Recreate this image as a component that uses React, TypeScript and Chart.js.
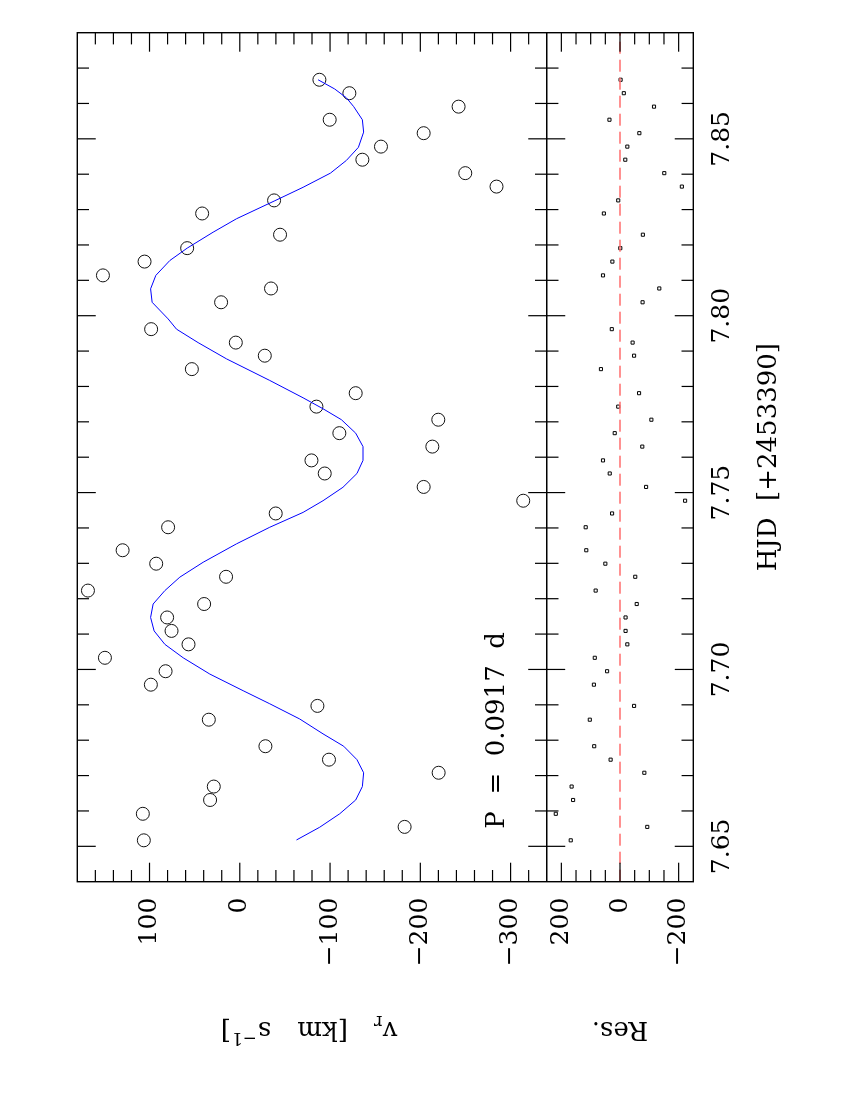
import React, { useEffect, useRef } from 'react';
import { Chart, registerables } from 'chart.js';

Chart.register(...registerables);

// ---- data ----
const HJD = [
  7.6517, 7.6555, 7.6592, 7.6631, 7.6669, 7.6708, 7.6745, 7.6783, 7.6858, 7.6897,
  7.6957, 7.6995, 7.7033, 7.7071, 7.7109, 7.7147, 7.7185, 7.7223, 7.7262, 7.7299,
  7.7337, 7.7402, 7.7441, 7.7477, 7.7516, 7.7554, 7.7591, 7.7630, 7.7668, 7.7706,
  7.7743, 7.7781, 7.7849, 7.7887, 7.7924, 7.7962, 7.8038, 7.8077, 7.8114, 7.8153,
  7.8191, 7.8229, 7.8289, 7.8326, 7.8365, 7.8403, 7.8441, 7.8478, 7.8516, 7.8554,
  7.8591, 7.8629, 7.8667,
];
const VR = [
  106.3, -182.6, 107.4, 32.9, 28.8, -220.3, -98.8, -28.4, 34.3, -86.0,
  98.5, 82.2, 149.4, 56.8, 75.6, 80.5, 39.5, 168.2, 15.2, 92.6,
  129.8, 79.4, -39.8, -314.0, -203.7, -94.1, -79.4, -213.3, -110.3, -219.9,
  -84.9, -128.4, 53.1, -27.7, 4.4, 98.2, 20.7, -34.6, 151.6, 105.5,
  58.3, -44.6, 41.7, -38.0, -284.4, -249.8, -135.8, -156.4, -203.7, -99.6,
  -242.4, -121.4, -88.2,
];
const RES = [
  168, -93, 219, 160, 165, -83, 32, 88, 103, -48,
  89, 44, 86, -25, -19, -19, -57, 83, -52, 50,
  115, 117, 27, -222, -89, 35, 58, -76, 18, -107,
  6, -65, 65, -48, -43, 28, -77, -134, 58, 26,
  -1, -78, 55, 6, -211, -151, -18, -25, -66, 36,
  -116, -13, -2,
];
const MODEL_HJD = [
  7.6518, 7.6554, 7.6592, 7.6631, 7.6669, 7.6708, 7.6745, 7.6783, 7.6818, 7.6860,
  7.6903, 7.6940, 7.6987, 7.7033, 7.7071, 7.7109, 7.7147, 7.7185, 7.7223, 7.7261,
  7.7303, 7.7355, 7.7402, 7.7444, 7.7477, 7.7515, 7.7554, 7.7591, 7.7630, 7.7668,
  7.7706, 7.7737, 7.7768, 7.7817, 7.7878, 7.7924, 7.7962, 7.7991, 7.8038, 7.8076,
  7.8114, 7.8156, 7.8191, 7.8236, 7.8274, 7.8324, 7.8363, 7.8403, 7.8439, 7.8476,
  7.8519, 7.8554, 7.8591, 7.8616, 7.8641, 7.8667,
];
const MODEL_VR = [
  -62.8, -88.5, -110.7, -128.4, -135.8, -137.2, -129.8, -115.1, -92.2, -66.4,
  -33.2, -3.7, 33.2, 62.7, 83.0, 94.9, 98.8, 96.0, 83.0, 66.4,
  40.6, 3.7, -33.2, -70.1, -92.2, -114.3, -129.8, -136.5, -136.5, -128.4,
  -112.6, -92.2, -70.1, -33.2, 14.7, 46.2, 70.1, 79.4, 97.1, 98.8,
  93.0, 77.5, 58.3, 29.6, 3.7, -38.0, -70.1, -100.4, -118.1, -131.4,
  -137.2, -135.8, -126.2, -118.1, -105.1, -86.7,
];

const HJD_RANGE = [7.64, 7.88];
const VR_RANGE = [-340, 180];
const RES_RANGE = [-250, 250];

const HJD_MAJOR = [7.65, 7.7, 7.75, 7.8, 7.85];
const HJD_MINOR = [
  7.65, 7.66, 7.67, 7.68, 7.69, 7.7, 7.71, 7.72, 7.73, 7.74, 7.75, 7.76,
  7.77, 7.78, 7.79, 7.8, 7.81, 7.82, 7.83, 7.84, 7.85, 7.86, 7.87,
];
const VR_MAJOR = [-300, -200, -100, 0, 100];
const VR_MINOR = [
  -320, -300, -280, -260, -240, -220, -200, -180, -160, -140, -120, -100, -80,
  -60, -40, -20, 0, 20, 40, 60, 80, 100, 120, 140, 160,
];
const RES_MAJOR = [-200, 0, 200];
const RES_MINOR = [-200, -150, -100, -50, 0, 50, 100, 150, 200];

const X_TITLE = 'HJD  [+2453390]';
const RES_TITLE = 'Res.';
const PERIOD_TEXT = 'P  =  0.0917  d';
const PERIOD_POS = { x: 7.655, y: -293 };

// ---- layout (landscape canvas that is rotated on the page) ----
const W = 1100;
const H = 850;
const FAMILY = 'DejaVu Serif';

const fmtNum = (v: number) => (v < 0 ? '\u2212' + Math.abs(v) : String(v));
const near = (a: number, list: number[]) => list.some((b) => Math.abs(a - b) < 1e-6);

const framePlugin = {
  id: 'frameTicks',
  afterDraw(chart: any) {
    const { ctx, chartArea } = chart;
    const { left, right, top, bottom } = chartArea;
    const xs = chart.scales.x;
    const yV = chart.scales.yV;
    const yR = chart.scales.yR;
    const div = yV.bottom;
    const line = (x1: number, y1: number, x2: number, y2: number) => {
      ctx.beginPath();
      ctx.moveTo(x1, y1);
      ctx.lineTo(x2, y2);
      ctx.stroke();
    };
    ctx.save();
    ctx.strokeStyle = '#000';
    ctx.lineWidth = 1.2;
    // HJD ticks
    for (const t of HJD_MINOR) {
      const px = xs.getPixelForValue(t);
      const L = near(t, HJD_MAJOR) ? 18.5 : 11.7;
      line(px, top, px, top + L);
      line(px, div - L, px, div + L);
      line(px, bottom, px, bottom - L);
    }
    for (const v of VR_MINOR) {
      const py = yV.getPixelForValue(v);
      const L = near(v, VR_MAJOR) ? 19 : 11.7;
      line(left, py, left + L, py);
      line(right, py, right - L, py);
    }
    for (const v of RES_MINOR) {
      const py = yR.getPixelForValue(v);
      const L = near(v, RES_MAJOR) ? 19 : 11.7;
      line(left, py, left + L, py);
      line(right, py, right - L, py);
    }
    ctx.lineWidth = 1.4;
    ctx.strokeRect(left, top, right - left, bottom - top);
    line(left, div, right, div);

    // texts
    ctx.fillStyle = '#000';
    ctx.textBaseline = 'alphabetic';
    ctx.textAlign = 'left';
    ctx.font = `26px ${FAMILY}`;
    ctx.fillText(PERIOD_TEXT, xs.getPixelForValue(PERIOD_POS.x), yV.getPixelForValue(PERIOD_POS.y));

    ctx.textAlign = 'center';
    ctx.font = `26px ${FAMILY}`;
    ctx.fillText(X_TITLE, (left + right) / 2, bottom + 83);

    // y titles (rotated)
    const baseU = left - 140;
    // Res.
    ctx.save();
    ctx.translate(baseU, (yR.top + yR.bottom) / 2);
    ctx.rotate(-Math.PI / 2);
    ctx.textAlign = 'center';
    ctx.font = `26px ${FAMILY}`;
    ctx.fillText(RES_TITLE, 0, 0);
    ctx.restore();

    // v_r [km s^-1]
    const pieces = [
      { t: 'v', s: 26, dy: 0, gap: 0 },
      { t: 'r', s: 18, dy: 6, gap: 0 },
      { t: '[km', s: 26, dy: 0, gap: 26 },
      { t: 's', s: 26, dy: 0, gap: 26 },
      { t: '\u22121', s: 17, dy: -11, gap: 1 },
      { t: ']', s: 26, dy: 0, gap: 1 },
    ];
    let total = 0;
    const widths = pieces.map((p) => {
      ctx.font = `${p.s}px ${FAMILY}`;
      const w = ctx.measureText(p.t).width;
      total += w + p.gap;
      return w;
    });
    ctx.save();
    ctx.translate(baseU, (yV.top + yV.bottom) / 2 - 3);
    ctx.rotate(-Math.PI / 2);
    ctx.textAlign = 'left';
    let cx = -total / 2;
    pieces.forEach((p, i) => {
      cx += p.gap;
      ctx.font = `${p.s}px ${FAMILY}`;
      ctx.fillText(p.t, cx, p.dy);
      cx += widths[i];
    });
    ctx.restore();

    ctx.restore();
  },
};

export default function App() {
  const ref = useRef<HTMLCanvasElement | null>(null);

  useEffect(() => {
    const canvas = ref.current;
    if (!canvas) return;
    const tickFont = { family: FAMILY, size: 25 };
    const chart = new Chart(canvas, {
      type: 'scatter',
      data: {
        datasets: [
          {
            type: 'line',
            label: 'model',
            data: MODEL_HJD.map((x, i) => ({ x, y: MODEL_VR[i] })),
            xAxisID: 'x',
            yAxisID: 'yV',
            borderColor: 'rgb(0,0,255)',
            borderWidth: 1,
            pointRadius: 0,
            fill: false,
            tension: 0,
          },
          {
            label: 'obs',
            data: HJD.map((x, i) => ({ x, y: VR[i] })),
            xAxisID: 'x',
            yAxisID: 'yV',
            pointStyle: 'circle',
            pointRadius: 6.5,
            borderWidth: 1,
            borderColor: '#111',
            backgroundColor: 'rgba(0,0,0,0)',
          },
          {
            type: 'line',
            label: 'zero',
            data: [
              { x: HJD_RANGE[0], y: 0 },
              { x: HJD_RANGE[1], y: 0 },
            ],
            xAxisID: 'x',
            yAxisID: 'yR',
            borderColor: 'rgb(255,110,110)',
            borderWidth: 1.6,
            borderDash: [12, 6],
            pointRadius: 0,
            fill: false,
          },
          {
            label: 'res',
            data: HJD.map((x, i) => ({ x, y: RES[i] })),
            xAxisID: 'x',
            yAxisID: 'yR',
            pointStyle: 'rect',
            pointRadius: 2.2,
            borderWidth: 1,
            borderColor: '#000',
            backgroundColor: 'rgba(0,0,0,0)',
          },
        ],
      } as any,
      options: {
        responsive: false,
        animation: false,
        events: [],
        layout: { padding: { top: 77.3, right: 32.7, left: 0, bottom: 0 } },
        plugins: { legend: { display: false }, tooltip: { enabled: false } },
        scales: {
          x: {
            type: 'linear',
            position: 'bottom',
            min: HJD_RANGE[0],
            max: HJD_RANGE[1],
            grid: { display: false, drawTicks: false },
            border: { display: false },
            ticks: {
              font: tickFont,
              color: '#000',
              padding: 14,
              autoSkip: false,
              maxRotation: 0,
              callback: (v: any) => Number(v).toFixed(2),
            },
            afterBuildTicks: (s: any) => {
              s.ticks = HJD_MAJOR.map((value) => ({ value }));
            },
            afterFit: (s: any) => {
              s.height = 156.7;
            },
          },
          yR: {
            type: 'linear',
            position: 'left',
            stack: 'panels',
            stackWeight: 146.6,
            weight: 0,
            min: RES_RANGE[0],
            max: RES_RANGE[1],
            grid: { display: false, drawTicks: false },
            border: { display: false },
            ticks: {
              font: tickFont,
              color: '#000',
              padding: 16,
              autoSkip: false,
              callback: (v: any) => fmtNum(Number(v)),
            },
            afterBuildTicks: (s: any) => {
              s.ticks = RES_MAJOR.map((value) => ({ value }));
            },
            afterFit: (s: any) => {
              s.width = 218.3;
            },
          },
          yV: {
            type: 'linear',
            position: 'left',
            stack: 'panels',
            stackWeight: 469.4,
            weight: 1,
            min: VR_RANGE[0],
            max: VR_RANGE[1],
            grid: { display: false, drawTicks: false },
            border: { display: false },
            ticks: {
              font: tickFont,
              color: '#000',
              padding: 16,
              autoSkip: false,
              callback: (v: any) => fmtNum(Number(v)),
            },
            afterBuildTicks: (s: any) => {
              s.ticks = VR_MAJOR.map((value) => ({ value }));
            },
            afterFit: (s: any) => {
              s.width = 218.3;
            },
          },
        },
      } as any,
      plugins: [framePlugin],
    });
    return () => chart.destroy();
  }, []);

  return (
    <div
      style={{
        position: 'fixed',
        left: 0,
        top: 0,
        width: 850,
        height: 1100,
        overflow: 'hidden',
        background: '#fff',
      }}
    >
      <div
        style={{
          position: 'absolute',
          left: 0,
          top: 0,
          width: W,
          height: H,
          transformOrigin: '0 0',
          transform: `translateY(${W}px) rotate(-90deg)`,
        }}
      >
        <canvas ref={ref} width={W} height={H} style={{ display: 'block', width: W, height: H }} />
      </div>
    </div>
  );
}
